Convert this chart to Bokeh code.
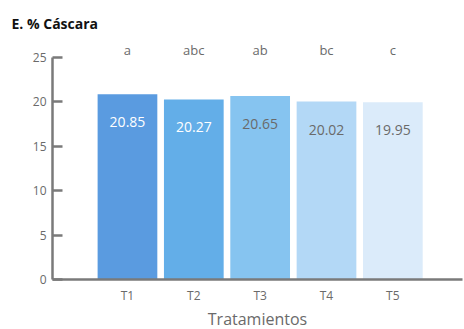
from bokeh.plotting import figure
from bokeh.models import ColumnDataSource, Range1d, FixedTicker, Title
from bokeh.core.properties import value
from bokeh.embed import file_html
from bokeh.resources import INLINE

treatments = ["T1", "T2", "T3", "T4", "T5"]
shell_pct = [20.85, 20.27, 20.65, 20.02, 19.95]
groups = ["a", "abc", "ab", "bc", "c"]
bar_colors = ["#5A9BE0", "#63AEE8", "#86C4F0", "#B3D8F6", "#DBEBFA"]
label_colors = ["#FFFFFF", "#FFFFFF", "#6A6A6A", "#6A6A6A", "#6A6A6A"]
y_ticks = [0, 5, 10, 15, 20, 25]

FONT = "Open Sans"
GREY = "#6A6A6A"

xs = list(range(1, len(treatments) + 1))
src = ColumnDataSource(dict(
    x=xs, y=shell_pct, color=bar_colors, lab=[f"{v:.2f}" for v in shell_pct],
    lab_color=label_colors, grp=groups, grp_y=[25.8] * len(xs),
))

p = figure(width=464, height=329, output_backend="svg", toolbar_location=None,
           x_range=Range1d(-0.13, 6.05), y_range=Range1d(0, 27.8),
           min_border_left=52, min_border_right=2, min_border_top=32, min_border_bottom=0)
p.outline_line_color = None
p.xgrid.grid_line_color = None
p.ygrid.grid_line_color = None

p.title.text = "E. % Cáscara"
p.title.text_font = FONT
p.title.text_font_size = "14px"
p.title.text_font_style = "bold"
p.title.text_color = "#111111"
p.title.offset = -41
p.title.standoff = 0

p.vbar(x="x", top="y", width=0.9, bottom=0, fill_color="color", line_color=None, source=src)
p.text(x="x", y="y", text="lab", text_color="lab_color", text_font=value(FONT),
       text_font_size="14px", text_align="center", text_baseline="middle",
       y_offset=28, source=src)
p.text(x="x", y="grp_y", text="grp", text_color=GREY, text_font=value(FONT),
       text_font_size="13px", text_align="center", text_baseline="middle", source=src)

ya = p.yaxis[0]
ya.ticker = FixedTicker(ticks=y_ticks)
ya.bounds = (0, 25)
ya.axis_line_color = "#7A7A7A"
ya.axis_line_width = 2.5
ya.major_tick_line_color = "#7A7A7A"
ya.major_tick_line_width = 2.5
ya.major_tick_in = 10
ya.major_tick_out = 0
ya.minor_tick_line_color = None
ya.major_label_text_font = FONT
ya.major_label_text_font_size = "12px"
ya.major_label_text_color = GREY
ya.major_label_standoff = 6

xa = p.xaxis[0]
xa.ticker = FixedTicker(ticks=xs)
xa.major_label_overrides = {x: t for x, t in zip(xs, treatments)}
xa.axis_line_color = "#7A7A7A"
xa.axis_line_width = 2.5
xa.major_tick_line_color = None
xa.minor_tick_line_color = None
xa.major_label_text_font = FONT
xa.major_label_text_font_size = "12px"
xa.major_label_text_color = GREY
xa.major_label_standoff = 1

# x axis title as a panel below the tick labels
p.add_layout(Title(text="Tratamientos", align="center", text_font=FONT,
                   text_font_size="16px", text_font_style="normal",
                   text_color=GREY, standoff=-1), "below")

open("out.html", "w").write(file_html(p, INLINE))
